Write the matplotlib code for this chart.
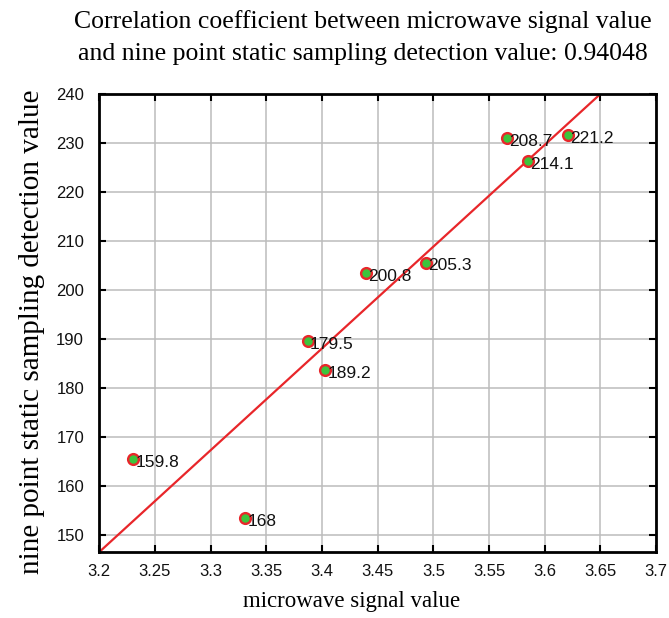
import matplotlib.pyplot as plt

# microwave signal vs nine point static sampling detection
signal = [3.2305, 3.331, 3.387, 3.403, 3.4395, 3.4934, 3.5665, 3.5853, 3.6212]
detect = [165.4, 153.4, 189.5, 183.7, 203.5, 205.6, 231.1, 226.3, 231.6]
labels = ["159.8", "168", "179.5", "189.2", "200.8", "205.3", "208.7", "214.1", "221.2"]

# fitted line end points
fit_x = [3.2, 3.65]
fit_y = [146.5, 240]

xticks = [3.2, 3.25, 3.3, 3.35, 3.4, 3.45, 3.5, 3.55, 3.6, 3.65, 3.7]
xticklabels = ["3.2", "3.25", "3.3", "3.35", "3.4", "3.45", "3.5", "3.55", "3.6", "3.65", "3.7"]
yticks = [150, 160, 170, 180, 190, 200, 210, 220, 230, 240]

serif = "Liberation Serif"
sans = "Liberation Sans"

fig = plt.figure(figsize=(6.69, 6.18), dpi=100)
ax = fig.add_axes([0.1484, 0.1068, 0.8322, 0.7411])

ax.plot(fit_x, fit_y, color="#e8262a", lw=1.6, zorder=2)
ax.scatter(signal, detect, s=60, facecolor="#3cc43c", edgecolor="#e8262a",
           linewidth=1.7, zorder=3)
for x, y, t in zip(signal, detect, labels):
    ax.annotate(t, (x, y), xytext=(1.5, -2.5), textcoords="offset points",
                ha="left", va="center", fontsize=12.5, family=sans,
                color="#111111", zorder=4)

ax.set_xlim(3.2, 3.7)
ax.set_ylim(146.5, 240)
ax.set_xticks(xticks)
ax.set_xticklabels(xticklabels)
ax.set_yticks(yticks)
ax.grid(True, color="#bcbcbc", lw=1.1)
ax.set_axisbelow(True)

ax.tick_params(direction="in", length=5, width=1.5, top=True, right=True,
               labelsize=12, labelcolor="#111111")
ax.tick_params(axis="x", pad=9)
ax.tick_params(axis="y", pad=11)
for lab in ax.get_xticklabels() + ax.get_yticklabels():
    lab.set_family(sans)
for s in ax.spines.values():
    s.set_linewidth(2)

fig.text(0.543, 0.984, "Correlation coefficient between microwave signal value\n"
         "and nine point static sampling detection value: 0.94048",
         ha="center", va="top", fontsize=18.5, family=serif, linespacing=1.6)
ax.set_xlabel("microwave signal value", fontsize=16.5, family=serif)
ax.xaxis.set_label_coords(0.454, -0.085)
ax.set_ylabel("nine point static sampling detection value", fontsize=21,
              family=serif)
ax.yaxis.set_label_coords(-0.098, 0.481)

fig.savefig("out.png", dpi=100)
